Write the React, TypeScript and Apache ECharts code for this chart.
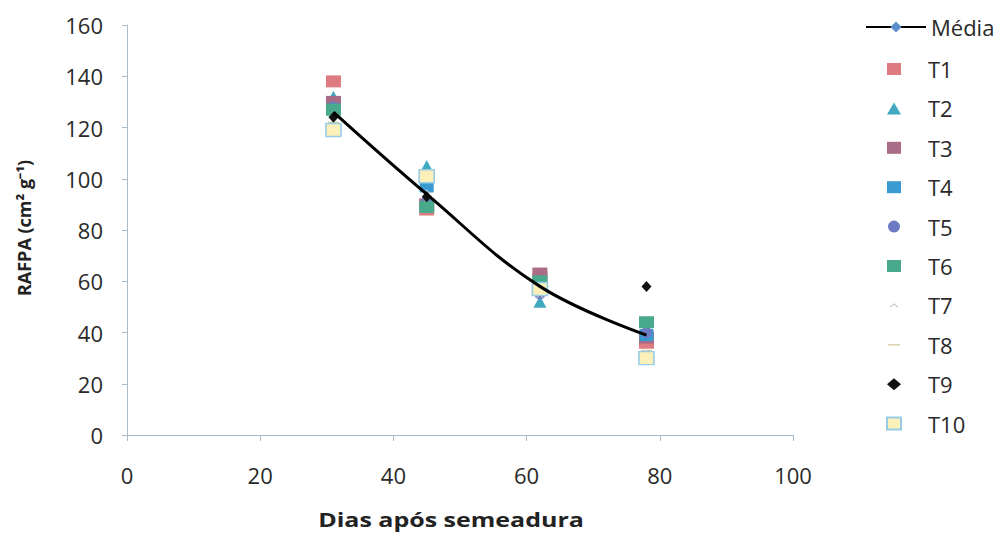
import React, { useEffect, useRef } from "react";
import * as echarts from "echarts";

const days = [31, 45, 62, 78];
const media = [126, 94, 58, 39];
const t1 = [138, 88, 61, 36];
const t2 = [132, 105, 52, 41];
const t3 = [130, 90, 63, 38];
const t4 = [127, 97, 59, 39];
const t5 = [128, 91, 55, 40];
const t6 = [127, 89, 60, 44];
const t7 = [125, 95, 54, 32];
const t8 = [122, 99, 56, 33];
const t9 = [124, 93, 56, 58];
const t10 = [119, 101, 57, 30];

const treatmentNames = ["T1", "T2", "T3", "T4", "T5", "T6", "T7", "T8", "T9", "T10"];
const treatmentValues = [t1, t2, t3, t4, t5, t6, t7, t8, t9, t10];

const FONT = "Open Sans";

const T7_ICON = "path://M0,0 M12,10 M2.5,6 L6,3.2 L9.5,6 L8.8,6.7 L6,4.5 L3.2,6.7 Z";
const T8_ICON = "path://M0,0 M12,10 M1,4.4 L11,4.4 L11,5.6 L1,5.6 Z";

const styles: any[] = [
  { symbol: "rect", size: [15, 12], color: "#DE7B80" },
  { symbol: "triangle", size: [13, 12], color: "#41A9C0" },
  { symbol: "rect", size: [15, 12], color: "#A96B85" },
  { symbol: "rect", size: [14, 12], color: "#3A9AD2" },
  { symbol: "circle", size: [11, 11], color: "#6C7BC4" },
  { symbol: "rect", size: [15, 12], color: "#49A98C" },
  { symbol: T7_ICON, size: [13, 11], color: "#C4C9D2" },
  { symbol: T8_ICON, size: [13, 11], color: "#D6CDA6" },
  { symbol: "diamond", size: [10, 11], color: "#111111" },
  { symbol: "rect", size: [15, 13], color: "#FBEFBA", border: "#97CDE6" },
];

export default function App() {
  const ref = useRef<HTMLDivElement>(null);
  useEffect(() => {
    if (!ref.current) return;
    const chart = echarts.init(ref.current, null, { renderer: "svg" });
    const scatterSeries = treatmentNames.map((name, k) => ({
      name,
      type: "scatter",
      data: days.map((d, i) => [d, treatmentValues[k][i]]),
      symbol: styles[k].symbol,
      symbolSize: styles[k].size,
      itemStyle: {
        color: styles[k].color,
        borderColor: styles[k].border || styles[k].color,
        borderWidth: styles[k].border ? 1.5 : 0,
        opacity: 1,
      },
      z: 2 + k * 0.01,
    }));
    const option: any = {
      animation: false,
      backgroundColor: "#ffffff",
      grid: { left: 127, right: 205, top: 25, bottom: 99 },
      xAxis: {
        type: "value",
        min: 0,
        max: 100,
        interval: 20,
        splitLine: { show: false },
        axisLine: { show: true, lineStyle: { color: "#A9BCCB", width: 1 } },
        axisTick: { show: true, length: 6, lineStyle: { color: "#A9BCCB" } },
        axisLabel: { margin: 29, fontFamily: FONT, fontSize: 22, color: "#2a2a2a" },
      },
      yAxis: {
        type: "value",
        min: 0,
        max: 160,
        interval: 20,
        splitLine: { show: false },
        axisLine: { show: true, lineStyle: { color: "#A9BCCB", width: 1 } },
        axisTick: { show: true, length: 5, lineStyle: { color: "#A9BCCB" } },
        axisLabel: { margin: 24, fontFamily: FONT, fontSize: 22, color: "#2a2a2a" },
      },
      legend: [
        {
          data: ["Média"],
          orient: "vertical",
          left: 860,
          top: 11,
          itemWidth: 60,
          itemHeight: 14,
          textStyle: { fontFamily: FONT, fontSize: 22, color: "#2a2a2a" },
        },
        {
          data: treatmentNames,
          orient: "vertical",
          left: 881,
          top: 53,
          itemWidth: 14,
          itemHeight: 12,
          itemGap: 17.4,
          textStyle: { fontFamily: FONT, fontSize: 22, color: "#2a2a2a", padding: [0, 0, 0, 22] },
        },
      ],
      graphic: [
        {
          type: "text",
          x: 451,
          y: 519,
          scaleX: 1.25,
          style: {
            text: "Dias após semeadura",
            fontFamily: FONT,
            fontWeight: "bold",
            fontSize: 20,
            fill: "#222",
            align: "center",
            verticalAlign: "middle",
          },
        },
        {
          type: "text",
          x: 24,
          y: 228,
          rotation: Math.PI / 2,
          style: {
            text: "RAFPA (cm² g⁻¹)",
            fontFamily: FONT,
            fontWeight: "bold",
            fontSize: 18,
            fill: "#222",
            align: "center",
            verticalAlign: "middle",
          },
        },
      ],
      series: [
        ...scatterSeries,
        {
          name: "Média",
          type: "line",
          data: days.map((d, i) => [d, media[i]]),
          smooth: 0.4,
          symbol: "diamond",
          symbolSize: 9,
          showSymbol: false,
          itemStyle: { color: "#5B8FC9" },
          lineStyle: { color: "#000000", width: 3 },
          z: 5,
        },
      ],
    };
    chart.setOption(option);
    return () => chart.dispose();
  }, []);
  return (
    <div
      ref={ref}
      style={{ position: "absolute", left: 0, top: 0, width: 998, height: 534 }}
    />
  );
}
